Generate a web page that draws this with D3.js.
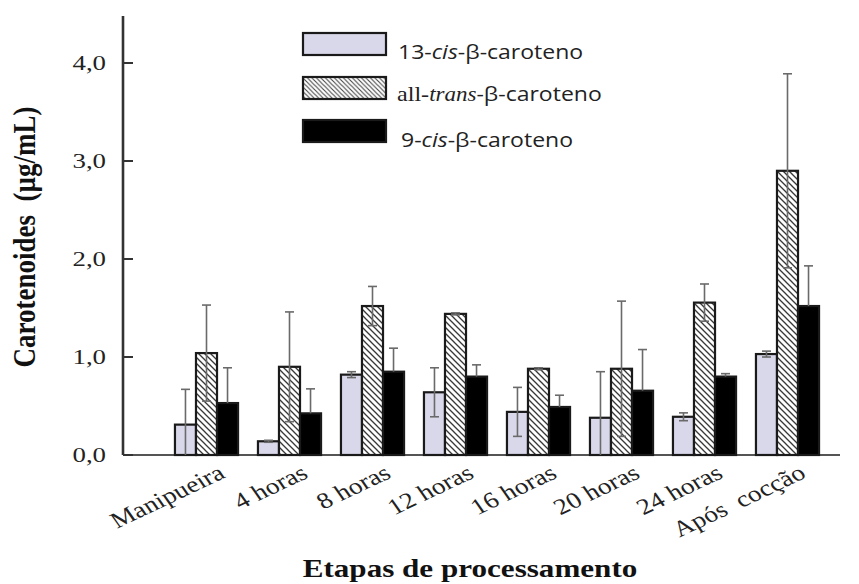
<!DOCTYPE html>
<html><head><meta charset="utf-8">
<script src="https://cdn.jsdelivr.net/npm/d3@7"></script>
<style>body{margin:0;background:#fff}</style></head><body>
<svg id="c" width="859" height="584"></svg>
<script>
const categories = ["Manipueira","4 horas","8 horas","12 horas","16 horas","20 horas","24 horas","Após  cocção"];
const seriesKeys = ["c13","trans","c9"];
const cis13    = [0.31,0.14,0.82,0.64,0.44,0.38,0.39,1.03];
const cis13Err = [0.36,0.01,0.03,0.25,0.25,0.47,0.04,0.03];
const trans    = [1.04,0.90,1.52,1.44,0.88,0.88,1.555,2.90];
const transErr = [0.49,0.56,0.20,0.01,0.01,0.69,0.19,0.99];
const cis9     = [0.53,0.425,0.85,0.80,0.49,0.656,0.80,1.52];
const cis9Err  = [0.36,0.25,0.24,0.12,0.12,0.42,0.03,0.41];
const yTicks = [0,1,2,3,4];
const legendLabels = [
  [["13-",false],["cis",true],["-β-caroteno",false]],
  [["all-",false],["trans",true],["-β-caroteno",false]],
  [["9-",false],["cis",true],["-β-caroteno",false]]
];

const values = {c13:cis13, trans:trans, c9:cis9};
const errors = {c13:cis13Err, trans:transErr, c9:cis9Err};

const svg = d3.select("#c");
const defs = svg.append("defs");
const pat = defs.append("pattern").attr("id","hatch").attr("patternUnits","userSpaceOnUse")
  .attr("width",6).attr("height",6);
pat.append("rect").attr("width",6).attr("height",6).attr("fill","#fff");
pat.append("path").attr("d","M0,0L6,6M-1,5L1,7M5,-1L7,1").attr("stroke","#333").attr("stroke-width",1.3);
const pat2 = defs.append("pattern").attr("id","hatch2").attr("patternUnits","userSpaceOnUse")
  .attr("width",4.5).attr("height",4.5);
pat2.append("rect").attr("width",4.5).attr("height",4.5).attr("fill","#fff");
pat2.append("path").attr("d","M0,0L4.5,4.5M-1,3.5L1,5.5M3.5,-1L5.5,1").attr("stroke","#444").attr("stroke-width",1.1);

const fills = {c13:"#d9d8ea", trans:"url(#hatch)", c9:"#000"};
const legendFills = {c13:"#d9d8ea", trans:"url(#hatch2)", c9:"#000"};

const x0 = 123, yBase = 455;
const y = d3.scaleLinear().domain([0,4]).range([yBase,63]);
const x = d3.scaleBand().domain(categories).range([165,829]).paddingInner(0.24).paddingOuter(0.12);
const xs = d3.scaleBand().domain(seriesKeys).range([0,x.bandwidth()]);

const SX = 1.22;

// axes lines
svg.append("line").attr("x1",x0).attr("x2",x0).attr("y1",y(0)).attr("y2",y(4.48))
  .attr("stroke","#333").attr("stroke-width",2.6);
svg.append("line").attr("x1",x0).attr("x2",840).attr("y1",y(0)).attr("y2",y(0))
  .attr("stroke","#555").attr("stroke-width",2);
svg.selectAll(".yt").data(yTicks).join("line")
  .attr("x1",x0).attr("x2",x0+10).attr("y1",d=>y(d)).attr("y2",d=>y(d))
  .attr("stroke","#333").attr("stroke-width",2);
svg.selectAll(".yl").data(yTicks).join("text")
  .attr("transform",d=>`translate(106,${y(d)+7}) scale(${SX},1)`)
  .attr("text-anchor","end").attr("font-family","Liberation Serif").attr("font-size",22)
  .attr("fill","#222").text(d=>d3.format(".1f")(d).replace(".",","));

// bars
const groups = svg.selectAll(".g").data(categories).join("g")
  .attr("transform",d=>`translate(${x(d)},0)`);
groups.each(function(cat,i){
  const g = d3.select(this);
  seriesKeys.forEach(k=>{
    const v = values[k][i], e = errors[k][i];
    const bx = xs(k), bw = xs.bandwidth();
    g.append("rect").attr("x",bx).attr("width",bw).attr("y",y(v)).attr("height",y(0)-y(v))
      .attr("fill",fills[k]).attr("stroke","#1a1a1a").attr("stroke-width",2.2);
    const cx = bx + bw/2;
    const hi = v+e, lo = (k==="c9") ? v : Math.max(0,v-e);
    const ec = "#6a6a6a";
    g.append("line").attr("x1",cx).attr("x2",cx).attr("y1",y(hi)).attr("y2",y(lo))
      .attr("stroke",ec).attr("stroke-width",1.6);
    g.append("line").attr("x1",cx-4.5).attr("x2",cx+4.5).attr("y1",y(hi)).attr("y2",y(hi))
      .attr("stroke",ec).attr("stroke-width",1.6);
    if (k!=="c9" && v-e>0) g.append("line").attr("x1",cx-4.5).attr("x2",cx+4.5).attr("y1",y(lo)).attr("y2",y(lo))
      .attr("stroke",ec).attr("stroke-width",1.6);
  });
});

// x labels
svg.selectAll(".xl").data(categories).join("text")
  .attr("transform",d=>`translate(${x(d)+x.bandwidth()/2+20},477) scale(${SX},1) rotate(-30)`)
  .attr("text-anchor","end").attr("font-family","Liberation Serif").attr("font-size",22.5)
  .attr("fill","#222").style("white-space","pre").attr("xml:space","preserve").text(d=>d);

// axis titles
svg.append("text").attr("transform",`translate(35,237) scale(1.15,1) rotate(-90)`)
  .attr("text-anchor","middle").attr("font-family","Liberation Serif").attr("font-weight","bold")
  .attr("font-size",27).attr("fill","#111").attr("xml:space","preserve").style("white-space","pre")
  .text("Carotenoides  (µg/mL)");
svg.append("text").attr("transform",`translate(470,577) scale(${SX},1)`)
  .attr("text-anchor","middle").attr("font-family","Liberation Serif").attr("font-weight","bold")
  .attr("font-size",25.5).attr("fill","#111").text("Etapas de processamento");

// legend
const legY = [33,77,120];
const legBase = [59,101,147];
const legX = [398,397,401];
seriesKeys.forEach((k,i)=>{
  svg.append("rect").attr("x",303).attr("y",legY[i]).attr("width",83).attr("height",22)
    .attr("fill",legendFills[k]).attr("stroke","#1a1a1a").attr("stroke-width",2.2);
  const t = svg.append("text").attr("transform",`translate(${legX[i]},${legBase[i]}) scale(1.15,1)`)
    .attr("font-family","Open Sans").attr("font-size",20).attr("fill","#222");
  legendLabels[i].forEach(([s,it])=>{
    if (i===1 && !it && s==="all-") {
      t.append("tspan").attr("font-family","Liberation Serif").attr("font-size",21).text("all-");
    } else {
      t.append("tspan").attr("font-style",it?"italic":"normal")
        .attr("font-family",(it && i===1)?"Liberation Serif":"Open Sans").text(s);
    }
  });
});
</script>
</body></html>
